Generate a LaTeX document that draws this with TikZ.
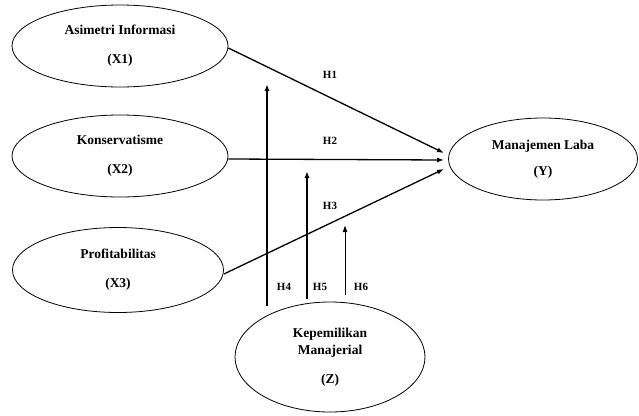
\documentclass[tikz,border=0pt]{standalone}
\usepackage{fontspec}
\setmainfont{Liberation Serif}
\usetikzlibrary{shapes.geometric,arrows.meta}

\begin{document}
\begin{tikzpicture}[
  x=1pt, y=-1pt,
  var/.style={ellipse, draw, thick, minimum width=216pt, minimum height=82pt,
    inner sep=0pt, align=center, font=\fontsize{13.5}{17}\selectfont\bfseries},
  hyp/.style={font=\fontsize{11}{12}\selectfont\bfseries},
  path/.style={-{Latex[length=7pt,width=5pt]}, line width=1.3pt}
]
\useasboundingbox (0,0) rectangle (639,415);
% variables
\node[var] (X1) at (120,46) {Asimetri Informasi\\[12pt](X1)};
\node[var] (X2) at (120,156) {Konservatisme\\[12pt](X2)};
\node[var, minimum width=211pt, minimum height=85pt] (X3) at (118,270) {Profitabilitas\\[12pt](X3)};
\node[var, minimum width=189pt] (Y) at (543,159) {Manajemen Laba\\[9pt](Y)};
\node[var, minimum width=190pt, minimum height=110pt] (Z) at (330,357) {Kepemilikan\\Manajerial\\[12pt](Z)};

% direct paths
\coordinate (y1) at (444,153);
\coordinate (y2) at (444,160);
\coordinate (y3) at (444,169);
\draw[path] (X1.east) ++(0,2) -- (y1);
\draw[path] (X2.east) ++(0,3) -- (y2);
\draw[path] (X3.east) ++(0,4) -- (y3);

% moderating paths
\coordinate (z4) at (267,306);
\coordinate (z5) at (307,299);
\coordinate (z6) at (345,295);
\coordinate (m4) at (267,84);
\coordinate (m5) at (307,171);
\coordinate (m6) at (345,225);
\draw[path, line width=1.8pt] (z4) -- (m4);
\draw[path, line width=1.8pt] (z5) -- (m5);
\draw[path, line width=1pt] (z6) -- (m6);

% labels
\node[hyp] (h1) at (330,75) {H1};
\node[hyp] (h2) at (330,141) {H2};
\node[hyp] (h3) at (330,206) {H3};
\node[hyp] (h4) at (284,287) {H4};
\node[hyp] (h5) at (320,287) {H5};
\node[hyp] (h6) at (361,287) {H6};
\end{tikzpicture}
\end{document}
